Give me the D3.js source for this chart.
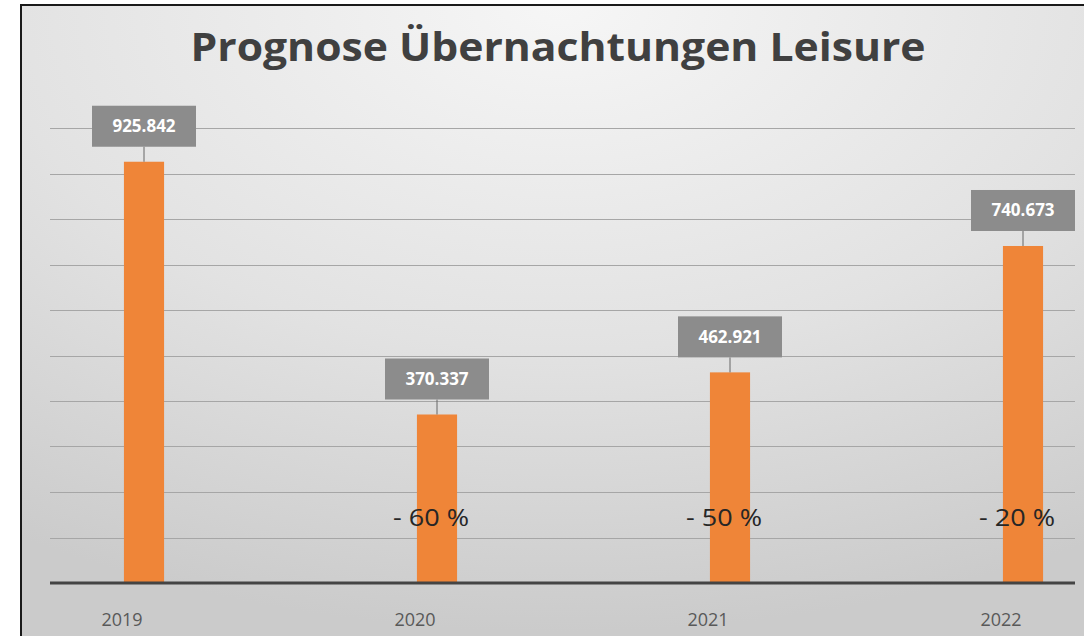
<!DOCTYPE html>
<html><head><meta charset="utf-8">
<script src="https://cdn.jsdelivr.net/npm/d3@7"></script>
<style>html,body{margin:0;padding:0;background:#fff;}svg{display:block;}</style>
</head><body>
<script>
const years = ["2019","2020","2021","2022"];
const values = [925842, 370337, 462921, 740673];
const valueLabels = ["925.842","370.337","462.921","740.673"];
const changeLabels = ["", "- 60 %", "- 50 %", "- 20 %"];
const yTicks = [0,100000,200000,300000,400000,500000,600000,700000,800000,900000,1000000];
const title = "Prognose Übernachtungen Leisure";

const W = 1084, H = 636;
const svg = d3.select("body").append("svg").attr("width", W).attr("height", H);
const defs = svg.append("defs");
const rg = defs.append("radialGradient").attr("id","bg")
  .attr("cx","50%").attr("cy","0%").attr("r","95%").attr("fx","50%").attr("fy","0%");
rg.append("stop").attr("offset","0%").attr("stop-color","#f6f6f6");
rg.append("stop").attr("offset","55%").attr("stop-color","#e2e2e2");
rg.append("stop").attr("offset","100%").attr("stop-color","#cbcbcb");

// frame
svg.append("rect").attr("x",21).attr("y",5).attr("width",1080).attr("height",660)
  .attr("fill","url(#bg)").attr("stroke","#1a1a1a").attr("stroke-width",2);

const y = d3.scaleLinear().domain([0,1000000]).range([583,128]);
const x = d3.scaleBand().domain(years).range([-2.5, 1169.5]).paddingInner(0.863).paddingOuter(0.4315);

// gridlines
svg.append("g").selectAll("line").data(yTicks.slice(1)).join("line")
  .attr("x1",50).attr("x2",1075)
  .attr("y1",d=>Math.round(y(d))+0.5).attr("y2",d=>Math.round(y(d))+0.5)
  .attr("stroke","#a6a6a6").attr("stroke-width",1);

// bars
svg.append("g").selectAll("rect").data(values).join("rect")
  .attr("x",(d,i)=>x(years[i])).attr("width",x.bandwidth())
  .attr("y",d=>y(d)).attr("height",d=>y(0)-y(d))
  .attr("fill","#ef8538");

// baseline
svg.append("line").attr("x1",50).attr("x2",1075).attr("y1",y(0)).attr("y2",y(0))
  .attr("stroke","#444").attr("stroke-width",3);

// value labels
const boxH = 41, gap = 15;
const lg = svg.append("g").selectAll("g").data(values).join("g");
lg.append("line")
  .attr("x1",(d,i)=>x(years[i])+x.bandwidth()/2).attr("x2",(d,i)=>x(years[i])+x.bandwidth()/2)
  .attr("y1",d=>y(d)-gap).attr("y2",d=>y(d))
  .attr("stroke","#666").attr("stroke-width",1);
const boxes = lg.append("rect").attr("fill","#8c8c8c");
const labs = lg.append("text")
  .attr("x",(d,i)=>x(years[i])+x.bandwidth()/2)
  .attr("y",d=>y(d)-gap-boxH/2+6)
  .attr("text-anchor","middle").attr("fill","#fff")
  .attr("font-family","'Open Sans', sans-serif").attr("font-weight","bold").attr("font-size",17)
  .text((d,i)=>valueLabels[i]);
labs.each(function(d,i){
  const w = Math.max(104, this.getComputedTextLength() + 30);
  d3.select(boxes.nodes()[i])
    .attr("x", x(years[i])+x.bandwidth()/2-w/2)
    .attr("y", y(d)-gap-boxH).attr("width", w).attr("height", boxH);
});

// change labels
svg.append("g").selectAll("text").data(changeLabels).join("text")
  .attr("x",(d,i)=>x(years[i])+x.bandwidth()/2-6)
  .attr("y",526)
  .attr("text-anchor","middle").attr("fill","#262626")
  .attr("font-family","'Open Sans', sans-serif").attr("font-size",24)
  .attr("textLength",d=>d?76:null).attr("lengthAdjust","spacingAndGlyphs")
  .text(d=>d);

// year labels
svg.append("g").selectAll("text").data(years).join("text")
  .attr("x",d=>x(d)+x.bandwidth()/2-22)
  .attr("y",626)
  .attr("text-anchor","middle").attr("fill","#595959")
  .attr("font-family","'Open Sans', sans-serif").attr("font-size",18)
  .text(d=>d);

// title
svg.append("text").attr("x",558).attr("y",61).attr("text-anchor","middle")
  .attr("fill","#404040").attr("font-family","'Open Sans', sans-serif")
  .attr("font-weight","bold").attr("font-size",40)
  .attr("textLength",735).attr("lengthAdjust","spacingAndGlyphs")
  .text(title);
</script>
</body></html>
